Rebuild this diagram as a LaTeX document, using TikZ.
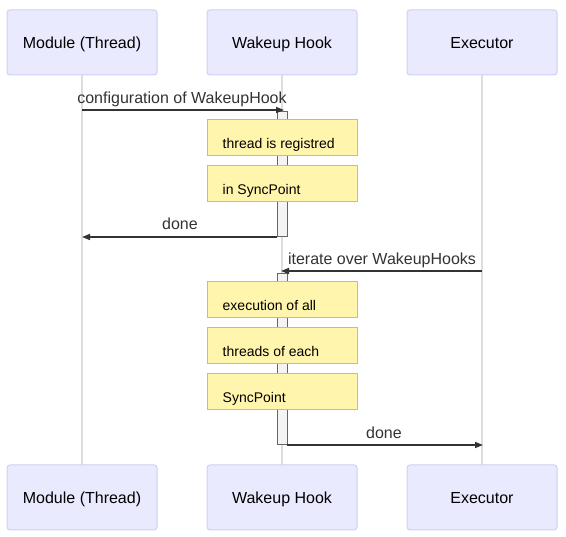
\documentclass[tikz,border=0pt]{standalone}
\usepackage{fontspec}
\setmainfont{Liberation Sans}
\usetikzlibrary{arrows.meta}
\definecolor{actfill}{HTML}{EAEAFF}
\definecolor{actdraw}{HTML}{CFCFF5}
\definecolor{life}{HTML}{DDDDDD}
\definecolor{msg}{HTML}{333333}
\definecolor{notefill}{HTML}{FFF5AD}
\definecolor{notedraw}{HTML}{C8C84A}
\definecolor{actvfill}{HTML}{F4F4F4}
\definecolor{actvdraw}{HTML}{666666}
\tikzset{
  actor/.style={draw=actdraw, fill=actfill, line width=1pt, rounded corners=3pt, minimum width=150pt, minimum height=65pt, inner sep=0pt, text height=15.6pt, text depth=4pt, font=\fontsize{16}{19}\selectfont, text=black},
  lifeline/.style={draw=life, line width=1.5pt},
  activation/.style={draw=actvdraw, fill=actvfill, line width=1pt},
  notebox/.style={draw=notedraw, fill=notefill, line width=1pt, minimum width=150pt, minimum height=36pt, inner sep=0pt},
  notetext/.style={anchor=base west, inner sep=0pt, font=\fontsize{14}{17}\selectfont, text=black},
  message/.style={draw=msg, line width=1.6pt, -{Triangle[length=8pt,width=6pt]}},
  msglabel/.style={anchor=base, inner sep=0pt, font=\fontsize{16}{19}\selectfont, text=msg}
}
\begin{document}
\begin{tikzpicture}[x=1pt,y=-1pt]
\useasboundingbox (0,0) rectangle (566,537);
% lifelines
\coordinate (l1t) at (82,75); \coordinate (l1b) at (82,465);
\coordinate (l2t) at (282,75); \coordinate (l2b) at (282,465);
\coordinate (l3t) at (482,75); \coordinate (l3b) at (482,465);
\draw[lifeline] (l1t) -- (l1b);
\draw[lifeline] (l2t) -- (l2b);
\draw[lifeline] (l3t) -- (l3b);
% actors
\node[actor] (a1) at (82,42.5) {Module (Thread)};
\node[actor] (a2) at (282,42.5) {Wakeup Hook};
\node[actor] (a3) at (482,42.5) {Executor};
\node[actor] (b1) at (82,497.5) {Module (Thread)};
\node[actor] (b2) at (282,497.5) {Wakeup Hook};
\node[actor] (b3) at (482,497.5) {Executor};
% activations
\draw[activation] (277,112) rectangle (287,237);
\draw[activation] (277,274) rectangle (287,445);
% notes
\node[notebox] (n1) at (282,138) {};
\node[notetext] (t1) at ([xshift=16pt,yshift=-11pt]n1.west) {thread is registred};
\node[notebox] (n2) at (282,184) {};
\node[notetext] (t2) at ([xshift=16pt,yshift=-11pt]n2.west) {in SyncPoint};
\node[notebox] (n3) at (282,300) {};
\node[notetext] (t3) at ([xshift=16pt,yshift=-11pt]n3.west) {execution of all};
\node[notebox] (n4) at (282,346) {};
\node[notetext] (t4) at ([xshift=16pt,yshift=-11pt]n4.west) {threads of each};
\node[notebox] (n5) at (282,392) {};
\node[notetext] (t5) at ([xshift=16pt,yshift=-11pt]n5.west) {SyncPoint};
% messages
\coordinate (m1s) at (82,110); \coordinate (m1e) at (284,110);
\draw[message] (m1s) -- (m1e);
\node[msglabel] (m1l) at (182,103.3) {configuration of WakeupHook};
\coordinate (m2s) at (277,237); \coordinate (m2e) at (82,237);
\draw[message] (m2s) -- (m2e);
\node[msglabel] (m2l) at (180,230) {done};
\coordinate (m3s) at (482,271); \coordinate (m3e) at (281,271);
\draw[message] (m3s) -- (m3e);
\node[msglabel] (m3l) at (382,265) {iterate over WakeupHooks};
\coordinate (m4s) at (287,445); \coordinate (m4e) at (483,445);
\draw[message] (m4s) -- (m4e);
\node[msglabel] (m4l) at (384,438.3) {done};
\end{tikzpicture}
\end{document}
